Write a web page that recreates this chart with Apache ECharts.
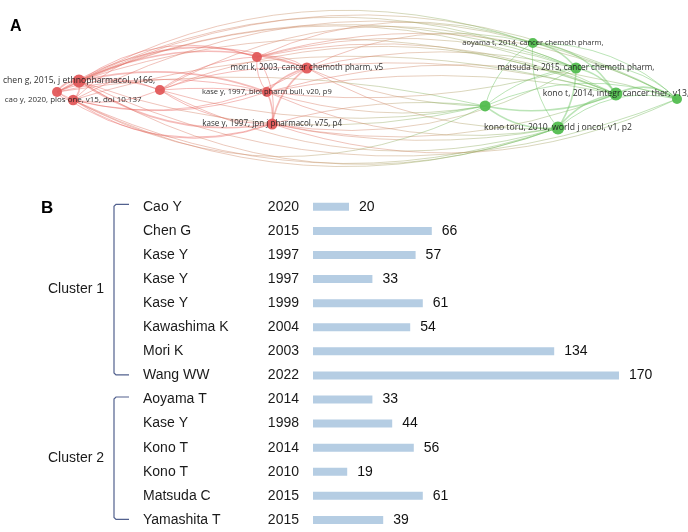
<!DOCTYPE html>
<html><head><meta charset="utf-8">
<script src="https://cdn.jsdelivr.net/npm/echarts@6/dist/echarts.min.js"></script>
<style>html,body{margin:0;padding:0;background:#fff}#c{width:688px;height:532px}</style>
</head><body><div id="c"></div><script>
// ---------- Panel A: co-citation network ----------
const nodeLabels = ['', 'chen g, 2015, j ethnopharmacol, v166,', 'cao y, 2020, plos one, v15, doi 10.137', '', '',
  'mori k, 2003, cancer chemoth pharm, v5', 'kase y, 1997, biol pharm bull, v20, p9', 'kase y, 1997, jpn j pharmacol, v75, p4',
  'aoyama t, 2014, cancer chemoth pharm,', 'matsuda c, 2015, cancer chemoth pharm,', 'kono t, 2014, integr cancer ther, v13,', '', '',
  'kono toru, 2010, world j oncol, v1, p2'];
const nodeCluster = [1,1,1,1,1,1,1,1,2,2,2,2,2,2];
const nodeX = [-1.000,-0.929,-0.948,-0.668,-0.355,-0.194,-0.323,-0.306, 0.535,0.674,0.803,1.000,0.381,0.616];
const nodeY = [-0.153, 0.106,-0.341,-0.106, 0.671, 0.412,-0.153,-0.906, 1.000,0.412,-0.200,-0.318,-0.482,-1.000];
const nodeWeight = [10,13,10.5,10,10,11.2,9.2,11, 9,11.2,13,10,11,13];
const links = [
  [0,1],[0,2],[1,2],[1,3],[2,3],[0,3],[1,4],[1,5],[1,6],[1,7],[2,5],[2,6],[2,7],[0,5],[0,7],[3,4],[3,5],[3,6],[3,7],
  [4,5],[4,6],[4,7],[5,6],[5,7],[6,7],[0,6],[2,4],
  [8,9],[8,10],[8,13],[8,12],[9,10],[9,13],[9,12],[9,11],[10,11],[10,13],[10,12],[11,13],[12,13],[11,12],[8,11],
  [0,10],[0,13],[1,9],[1,10],[1,13],[1,12],[2,13],[2,10],[3,9],[3,13],[3,12],[4,8],[4,9],[4,11],[5,8],[5,9],[5,10],
  [5,13],[5,12],[6,10],[6,12],[6,13],[7,13],[7,12],[7,10],[7,11],[6,11],[1,11],[0,12],[2,11],[0,9],[3,10],[4,10],[6,9],
  [1,8],[2,12],[0,11],[7,9]
];
const linkWeight = [
  2,1,2,1,1,1,1,2,2,2,1,1,1,1,1,1,1,1,1,
  1,1,1,2,2,2,1,1,
  2,2,1,1,2,2,1,1,2,2,2,1,2,1,1,
  1,1,1,1,1,1,1,1,1,1,1,1,1,1,1,1,1,
  1,1,1,1,1,1,1,1,1,1,1,1,1,1,1,1,1,
  1,1,1,1
];
const linkBend = [
  0.3,-0.3,0.3,0.15,-0.15,0.2,0.25,0.2,0.15,-0.2,-0.2,-0.15,-0.25,0.25,-0.25,0.15,0.1,0.05,-0.15,
  0.2,-0.2,0.2,-0.15,-0.2,0.15,0.12,0.3,
  0.2,0.25,-0.2,-0.2,0.2,0.15,-0.15,0.25,0.3,-0.2,0.15,-0.25,-0.2,-0.2,0.2,
  0.24,-0.22,0.2,0.18,-0.24,-0.15,-0.2,0.15,0.25,-0.2,-0.12,0.2,0.15,0.2,0.18,0.12,0.1,
  -0.15,-0.1,0.1,-0.12,-0.15,-0.1,0.1,-0.15,-0.2,0.15,-0.22,0.1,0.26,0.24,0.2,0.16,-0.1,
  0.22,-0.26,0.26,-0.18
];

// ---------- Panel B: most cited references ----------
const authors = ['Cao Y','Chen G','Kase Y','Kase Y','Kase Y','Kawashima K','Mori K','Wang WW',
  'Aoyama T','Kase Y','Kono T','Kono T','Matsuda C','Yamashita T'];
const years = ['2020','2015','1997','1997','1999','2004','2003','2022','2014','1998','2014','2010','2015','2015'];
const citations = [20,66,57,33,61,54,134,170,33,44,56,19,61,39];
const clusterNames = ['Cluster 1','Cluster 2'];
const clusterStart = [0,8];
const clusterEnd = [7,13];

const RED = '#e2585a', GREEN = '#52bd4f';
const redEdge = 'rgba(232,105,100,0.45)', greenEdge = 'rgba(105,195,95,0.45)';
function crossGrad(){
  return new echarts.graphic.LinearGradient(0,0,1,0,[
    {offset:0,color:'rgba(232,105,100,0.45)'},
    {offset:0.5,color:'rgba(195,145,100,0.42)'},
    {offset:1,color:'rgba(105,195,95,0.45)'}]);
}

const chart = echarts.init(document.getElementById('c'));
chart.setOption({
  animation:false,
  title:[
    {text:'A',left:10,top:19,padding:0,textStyle:{fontSize:16,fontWeight:'bold',color:'#000',fontFamily:'Liberation Sans, Arial'}},
    {text:'B',left:41,top:200,padding:0,textStyle:{fontSize:17,fontWeight:'bold',color:'#000',fontFamily:'Liberation Sans, Arial'}}
  ],
  grid:[
    {left:57,right:11,top:43,height:85},
    {left:313,top:194.75,height:343,width:360}
  ],
  xAxis:[
    {gridIndex:0,type:'value',min:-1,max:1,show:false},
    {gridIndex:1,type:'value',min:0,max:200,show:false}
  ],
  yAxis:[
    {gridIndex:0,type:'value',min:-1,max:1,show:false},
    {gridIndex:1,type:'category',inverse:true,data:authors.map((a,i)=>String(i)),
     axisLine:{show:false},axisTick:{show:false},splitLine:{show:false},
     axisLabel:{margin:14,interval:0,
       formatter:(v)=>{const i=+v;return '{n|'+authors[i]+'}{y|'+years[i]+'}';},
       rich:{n:{width:125,align:'left',fontSize:14,color:'#1a1a1a',fontFamily:'Liberation Sans, Arial'},
             y:{width:31,align:'right',fontSize:14,color:'#1a1a1a',fontFamily:'Liberation Sans, Arial'}}}}
  ],
  series:[
    {
      type:'graph',coordinateSystem:'cartesian2d',xAxisIndex:0,yAxisIndex:0,silent:true,
      data:nodeLabels.map((l,i)=>({
        name:'n'+i,value:[nodeX[i],nodeY[i]],symbolSize:Math.max(nodeWeight[i],10),
        itemStyle:{color:nodeCluster[i]===1?RED:GREEN,opacity:0.95},
        label:{show:!!l,formatter:()=>l,fontSize:5+0.28*nodeWeight[i]}
      })),
      links:links.map(([s,t],k)=>({
        source:s,target:t,
        lineStyle:{curveness:linkBend[k],width:linkWeight[k]===2?1.6:1,
          color:nodeCluster[s]!==nodeCluster[t]?crossGrad():(nodeCluster[s]===1?redEdge:greenEdge)}
      })),
      label:{position:'inside',fontFamily:'Open Sans',fontSize:8,color:'#1f1f1f'},
      lineStyle:{width:1,opacity:1},
      emphasis:{disabled:true}
    },
    {
      type:'bar',xAxisIndex:1,yAxisIndex:1,data:citations,barWidth:8,silent:true,
      itemStyle:{color:'#b5cde3'},
      label:{show:true,position:'right',distance:10,fontSize:14,color:'#111',fontFamily:'Liberation Sans, Arial'}
    },
    {
      type:'custom',xAxisIndex:1,yAxisIndex:1,silent:true,
      data:clusterStart.map((s,i)=>[0,s]),
      encode:{x:0,y:1},
      renderItem:(params,api)=>{
        const i=params.dataIndex;
        const top=api.coord([0,clusterStart[i]]);
        const bot=api.coord([0,clusterEnd[i]]);
        const x0=top[0]-199, x1=top[0]-184;
        const y0=top[1]-2.5, y1=bot[1]-0.5;
        return {type:'group',children:[
          {type:'polyline',shape:{points:[[x1,y0],[x0+2,y0],[x0,y0+2],[x0,y1-2],[x0+2,y1],[x1,y1]]},
           style:{stroke:'#52618e',lineWidth:1.2,fill:null}},
          {type:'text',style:{text:clusterNames[i],x:x0-10,y:(y0+y1)/2,align:'right',verticalAlign:'middle',
            fontSize:14,fill:'#1a1a1a',fontFamily:'Liberation Sans, Arial'}}
        ]};
      }
    }
  ]
});
</script></body></html>
